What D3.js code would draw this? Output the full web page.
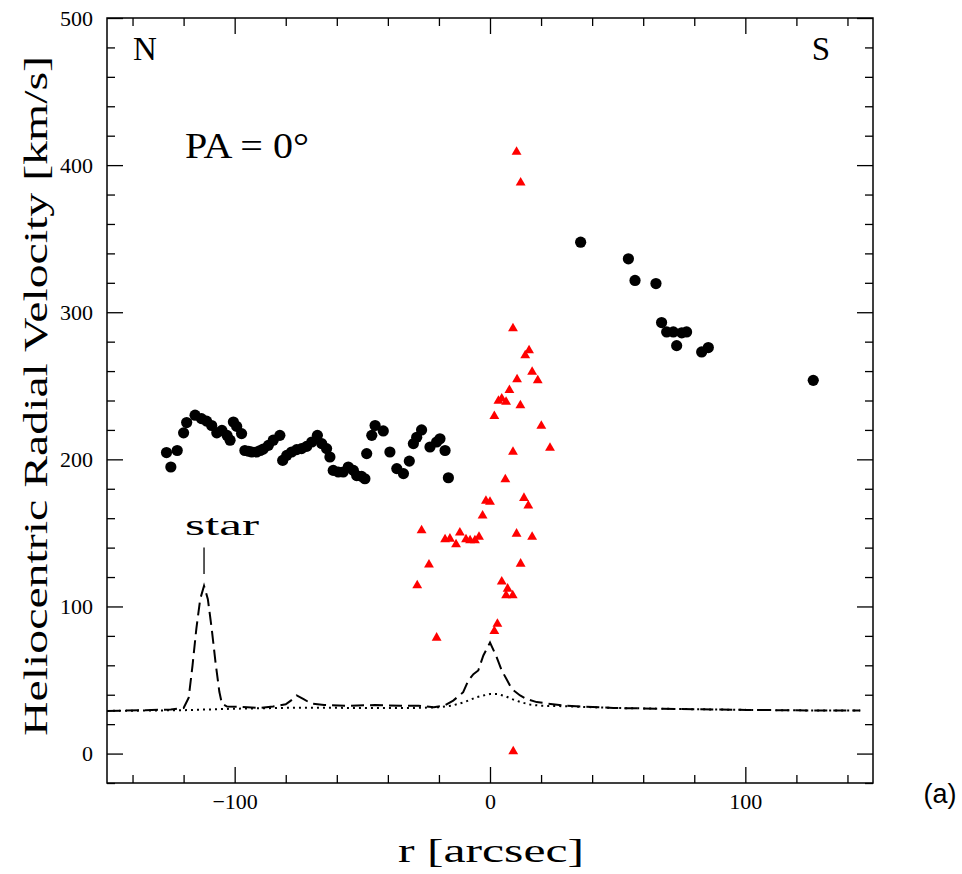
<!DOCTYPE html>
<html><head><meta charset="utf-8">
<script src="https://cdn.jsdelivr.net/npm/d3@7"></script>
<style>body{margin:0;background:#fff}</style>
</head><body>
<script>
// ---- data ----
const northPoints = [[-126.7,204.6],[-122.5,206],[-125,194.8],[-120,218],[-118.8,225],[-115.5,230],[-113,227.7],[-111,226],[-109,223],[-107,218],[-105,219.7],[-103,216.3],[-101.8,213],[-100.5,225.4],[-99.2,222.4],[-97.3,217.5],[-96,206],[-94.5,205.5],[-93.3,205],[-91.4,205],[-90,206],[-88.8,207],[-86.8,209.5],[-84.9,213],[-82.3,216.3],[-81.2,199.3],[-79.6,202.7],[-77.7,205],[-75.7,206.6],[-73.8,207.3],[-71.8,208.8],[-69.8,211.8],[-67.6,216.3],[-65.9,210.7],[-64,207.3],[-62.7,201.6],[-61.4,192.5],[-59.4,191.4],[-57.5,191.4],[-55.5,194.8],[-53.5,192.5],[-52.2,189],[-50.3,188.4],[-49,186.8],[-48.3,203.9],[-46.3,216.3],[-45,223],[-41.8,219.3],[-39.2,205],[-36.5,193.7],[-33.9,190.3],[-31.6,198.8],[-30,210.7],[-28.7,215],[-26.8,220],[-23.5,208.4],[-20.9,211.8],[-19.6,214],[-17.6,206],[-16.3,187.5]];
const southPoints = [[35.5,347.6],[54.2,336.3],[56.8,321.6],[65,319.5],[67.2,293],[69.2,286.6],[71.8,286.6],[73.1,277.3],[75.1,286],[77,286.6],[82.9,273],[85.5,276],[126.6,253.7]];
const redPoints = [[10.4,409],[12,388],[9,289],[15.3,274],[13.8,270.7],[16.5,259.4],[18.7,253.7],[10.6,254.4],[7.6,247],[3.3,239.7],[4.6,241.3],[6.3,239],[11.9,236.7],[1.7,229.3],[20.1,222.7],[9,205],[23.5,207.7],[6,186.4],[-1.6,171.8],[0,171],[13.3,173.7],[15,168.5],[-2.9,161.7],[-26.8,151.7],[-17.6,145.6],[-15.7,146],[-13.3,142.2],[-11.8,150.1],[-9.4,145.6],[-7.8,144.9],[-5.9,144.9],[-4.3,147.2],[10.4,149.4],[16.5,147.2],[-23.9,128.4],[12,129],[-28.5,114.3],[4.6,116.8],[6.9,112],[6.3,107.5],[8.9,107.5],[2.9,88.2],[1.7,83.2],[-20.9,78.7],[9.1,1.4]];
const dashedProfile = [[-150,29],[-135,29.5],[-125,30],[-120,31],[-118,38],[-116.5,60],[-115,85],[-113.5,105],[-112,114],[-110.5,105],[-109,85],[-107.5,62],[-106,42],[-105,34],[-103,32],[-95,31.5],[-90,31],[-85,32],[-80,33.5],[-78,36],[-75.7,39.5],[-73,37],[-70,34],[-65,33],[-55,32.5],[-45,33],[-35,32.5],[-28,32.5],[-22,31.5],[-18,32.5],[-14.4,36],[-10.5,41.7],[-8.5,49.7],[-6.5,54],[-4.6,56.5],[-2.6,66.7],[0,75.5],[2.5,66],[4.6,56.5],[6.5,50.5],[8.5,44],[11.8,39.5],[14.4,37],[18.3,35],[28.7,32.6],[48.3,31],[74.4,30.3],[100.5,29.7],[126.6,29.3],[145,29.3]];
const dottedProfile = [[-150,29],[-120,29.5],[-100,30.5],[-75,31.2],[-50,31],[-30,31],[-20,31.5],[-15,32.5],[-10,35],[-5,38.5],[0,40.5],[3,40.5],[6,39],[9,36.8],[12,35],[15.7,33.3],[20,32.5],[28.7,32.2],[48.3,31],[74.4,30.3],[100.5,29.7],[126.6,29.3],[145,29.3]];
const xMajorTicks = [-100, 0, 100];
const xMinorTicks = [-140,-120,-80,-60,-40,-20,20,40,60,80,120,140];
const yMajorTicks = [0,100,200,300,400,500];
const yMinorTicks = [-20,20,40,60,80,120,140,160,180,220,240,260,280,320,340,360,380,420,440,460,480];
const starLabel = {text:"star", r:-112, v0:122, v1:140};

// ---- layout ----
const W = 962, H = 874;
const L = 107, R = 873, T = 18, B = 783;
const svg = d3.select("body").append("svg").attr("width", W).attr("height", H)
  .style("font-family", "'Liberation Serif', 'DejaVu Serif', serif");

const x = d3.scaleLinear().domain([-150,150]).range([L,R]);
const y = d3.scaleLinear().domain([-20,500]).range([B,T]);

const clip = svg.append("defs").append("clipPath").attr("id","clip")
  .append("rect").attr("x",L).attr("y",T).attr("width",R-L).attr("height",B-T);

function styleAxis(g){ g.select(".domain").remove(); g.selectAll("line").attr("stroke","#000").attr("stroke-width",1.3);
  g.selectAll("text").attr("fill","#000").style("font-family","'Liberation Serif', serif").style("font-size","22px"); }

const fmt = d => d < 0 ? "\u2212" + Math.abs(d) : String(d);
// bottom
svg.append("g").attr("transform",`translate(0,${B})`).call(d3.axisBottom(x).tickValues(xMajorTicks).tickSizeInner(-16).tickSizeOuter(0).tickPadding(10).tickFormat(fmt)).call(styleAxis);
svg.append("g").attr("transform",`translate(0,${B})`).call(d3.axisBottom(x).tickValues(xMinorTicks).tickSizeInner(-8).tickSizeOuter(0).tickFormat("")).call(styleAxis);
// top
svg.append("g").attr("transform",`translate(0,${T})`).call(d3.axisTop(x).tickValues(xMajorTicks).tickSizeInner(-16).tickSizeOuter(0).tickFormat("")).call(styleAxis);
svg.append("g").attr("transform",`translate(0,${T})`).call(d3.axisTop(x).tickValues(xMinorTicks).tickSizeInner(-8).tickSizeOuter(0).tickFormat("")).call(styleAxis);
// left
svg.append("g").attr("transform",`translate(${L},0)`).call(d3.axisLeft(y).tickValues(yMajorTicks).tickSizeInner(-16).tickSizeOuter(0).tickPadding(14).tickFormat(fmt)).call(styleAxis);
svg.append("g").attr("transform",`translate(${L},0)`).call(d3.axisLeft(y).tickValues(yMinorTicks).tickSizeInner(-8).tickSizeOuter(0).tickFormat("")).call(styleAxis);
// right
svg.append("g").attr("transform",`translate(${R},0)`).call(d3.axisRight(y).tickValues(yMajorTicks).tickSizeInner(-16).tickSizeOuter(0).tickFormat("")).call(styleAxis);
svg.append("g").attr("transform",`translate(${R},0)`).call(d3.axisRight(y).tickValues(yMinorTicks).tickSizeInner(-8).tickSizeOuter(0).tickFormat("")).call(styleAxis);

svg.append("rect").attr("x",L).attr("y",T).attr("width",R-L).attr("height",B-T)
  .attr("fill","none").attr("stroke","#000").attr("stroke-width",1.5);

const plot = svg.append("g").attr("clip-path","url(#clip)");
const line = d3.line().x(d=>x(d[0])).y(d=>y(d[1]));
plot.append("path").attr("d", line(dottedProfile)).attr("fill","none").attr("stroke","#000")
  .attr("stroke-width",2).attr("stroke-dasharray","2,4");
plot.append("path").attr("d", line(dashedProfile)).attr("fill","none").attr("stroke","#000")
  .attr("stroke-width",2).attr("stroke-dasharray","13,6");

plot.selectAll("circle.n").data(northPoints.concat(southPoints)).join("circle")
  .attr("cx",d=>x(d[0])).attr("cy",d=>y(d[1])).attr("r",5.6).attr("fill","#000");

const tri = d3.symbol().type(d3.symbolTriangle).size(42);
plot.selectAll("path.t").data(redPoints).join("path")
  .attr("transform",d=>`translate(${x(d[0])},${y(d[1])})`).attr("d",tri).attr("fill","#ff0000");

// star marker
svg.append("line").attr("x1",x(starLabel.r)).attr("x2",x(starLabel.r))
  .attr("y1",y(starLabel.v0)).attr("y2",y(starLabel.v1)).attr("stroke","#000").attr("stroke-width",1.3);
svg.append("text").attr("x",222).attr("y",535).attr("text-anchor","middle")
  .attr("font-size",30).attr("textLength",74).attr("lengthAdjust","spacingAndGlyphs").text(starLabel.text);

// annotations
svg.append("text").attr("x",145).attr("y",60).attr("text-anchor","middle").attr("font-size",33).text("N");
svg.append("text").attr("x",821).attr("y",60).attr("text-anchor","middle").attr("font-size",33).text("S");
svg.append("text").attr("x",185).attr("y",158).attr("font-size",35)
  .attr("textLength",124).attr("lengthAdjust","spacingAndGlyphs").text("PA = 0\u00B0");

// axis titles
svg.append("text").attr("x",491).attr("y",862).attr("text-anchor","middle").attr("font-size",33)
  .attr("textLength",186).attr("lengthAdjust","spacingAndGlyphs").text("r [arcsec]");
svg.append("text").attr("transform","translate(47,396) rotate(-90)").attr("text-anchor","middle")
  .attr("font-size",33).attr("textLength",680).attr("lengthAdjust","spacingAndGlyphs")
  .text("Heliocentric Radial Velocity [km/s]");

svg.append("text").attr("x",940).attr("y",803).attr("text-anchor","middle")
  .style("font-family","'Liberation Sans', Arial, sans-serif").attr("font-size",27).text("(a)");
</script>
</body></html>
